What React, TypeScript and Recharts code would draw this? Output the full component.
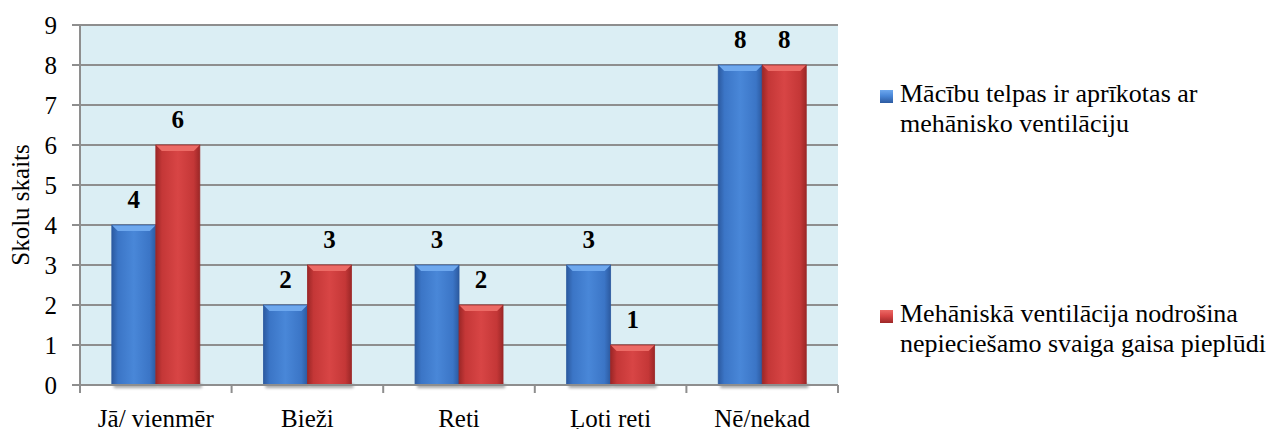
import React from "react";
import {
  BarChart,
  Bar,
  XAxis,
  YAxis,
  CartesianGrid,
  LabelList,
} from "recharts";

// ---------------------------------------------------------------------------
// Mehāniskā ventilācija skolās — grouped bars, Excel-like bevelled look
// ---------------------------------------------------------------------------

const categories = ["Jā/ vienmēr", "Bieži", "Reti", "Ļoti reti", "Nē/nekad"];
const equipped = [4, 2, 3, 3, 8];
const sufficient = [6, 3, 2, 1, 8];
const yTicks = [0, 1, 2, 3, 4, 5, 6, 7, 8, 9];

const seriesNames = [
  ["Mācību telpas ir aprīkotas ar", "mehānisko ventilāciju"],
  ["Mehāniskā ventilācija nodrošina", "nepieciešamo svaiga gaisa pieplūdi"],
];

const data = categories.map((name, i) => ({
  name,
  equipped: equipped[i],
  sufficient: sufficient[i],
}));

const FONT = '"Liberation Serif", "Times New Roman", serif';
const GRID = "#8e8e8e";

const PALETTE = {
  blue: { edge: "#2c5aa0", mid: "#3b75c6", center: "#4987d8", top: "#6ea8ee" },
  red: { edge: "#9c2727", mid: "#c43737", center: "#d84545", top: "#ec6b66" },
};

function Gradients() {
  return (
    <svg width={0} height={0} style={{ position: "absolute" }}>
      <defs>
        {(["blue", "red"] as const).map((k) => (
          <linearGradient key={k} id={`body-${k}`} x1="0" y1="0" x2="1" y2="0">
            <stop offset="0%" stopColor={PALETTE[k].edge} />
            <stop offset="14%" stopColor={PALETTE[k].mid} />
            <stop offset="50%" stopColor={PALETTE[k].center} />
            <stop offset="86%" stopColor={PALETTE[k].mid} />
            <stop offset="100%" stopColor={PALETTE[k].edge} />
          </linearGradient>
        ))}
        <filter id="bar-shadow" x="-20%" y="-50%" width="140%" height="300%">
          <feGaussianBlur stdDeviation="1.5" />
        </filter>
      </defs>
    </svg>
  );
}

function BevelBar(props: any) {
  const { x, y, width, height, tone } = props;
  if (!height || height <= 0) return null;
  const c = PALETTE[tone as "blue" | "red"];
  const b = Math.min(6, height / 2);
  return (
    <g>
      <rect
        x={x + 2}
        y={y + height - 1}
        width={width}
        height={4}
        fill="#000"
        opacity={0.35}
        filter="url(#bar-shadow)"
      />
      <rect x={x} y={y} width={width} height={height} fill={`url(#body-${tone})`} />
      <polygon
        points={`${x},${y} ${x + width},${y} ${x + width - b},${y + b} ${x + b},${y + b}`}
        fill={c.top}
      />
      <rect x={x} y={y} width={width} height={height} fill="none" stroke={c.edge} strokeWidth={0.8} />
    </g>
  );
}

function CategoryTick(props: any) {
  const { x, y, payload, index, visibleTicksCount } = props;
  const half = payload?.offset || 75.7;
  const axisY = y - 24;
  const last = index === (visibleTicksCount ?? categories.length) - 1;
  return (
    <g>
      <line x1={x - half} x2={x - half} y1={axisY} y2={axisY + 8} stroke={GRID} strokeWidth={2} />
      {last && (
        <line x1={x + half} x2={x + half} y1={axisY} y2={axisY + 8} stroke={GRID} strokeWidth={2} />
      )}
      <text x={x} y={y} dy="0.71em" textAnchor="middle" fontFamily={FONT} fontSize={25} fill="#000">
        {payload.value}
      </text>
    </g>
  );
}

function LegendBlock() {
  const tops = [79, 299];
  const tones = ["blue", "red"] as const;
  return (
    <>
      {seriesNames.map((lines, i) => (
        <div
          key={i}
          style={{
            position: "absolute",
            left: 900,
            top: tops[i],
            fontFamily: FONT,
            fontSize: 26,
            lineHeight: "30px",
            color: "#000",
            whiteSpace: "nowrap",
          }}
        >
          <span
            style={{
              position: "absolute",
              left: -20,
              top: 11,
              width: 13,
              height: 13,
              background: `linear-gradient(180deg, ${PALETTE[tones[i]].top}, ${PALETTE[tones[i]].center} 45%, ${PALETTE[tones[i]].edge})`,
            }}
          />
          {lines.map((l) => (
            <div key={l}>{l}</div>
          ))}
        </div>
      ))}
    </>
  );
}

export default function App() {
  return (
    <div
      style={{
        position: "absolute",
        left: 0,
        top: 0,
        width: 1277,
        height: 429,
        background: "#fff",
        overflow: "hidden",
      }}
    >
      <Gradients />
      <BarChart
        width={1277}
        height={429}
        data={data}
        margin={{ top: 25, right: 439, left: 0, bottom: 0 }}
        barCategoryGap="21%"
        barGap={0}
      >
        <CartesianGrid vertical={false} fill="#dbeef4" stroke={GRID} strokeWidth={2} />
        <XAxis
          dataKey="name"
          height={44}
          axisLine={{ stroke: GRID, strokeWidth: 2 }}
          tickLine={false}
          tickSize={8}
          tickMargin={16}
          interval={0}
          tick={<CategoryTick />}
        />
        <YAxis
          width={80}
          domain={[0, 9]}
          ticks={yTicks}
          interval={0}
          axisLine={{ stroke: GRID, strokeWidth: 2 }}
          tickLine={{ stroke: GRID, strokeWidth: 2 }}
          tickSize={8}
          tickMargin={15}
          tick={{ fontFamily: FONT, fontSize: 25, fill: "#000" }}
          label={{
            content: ({ viewBox }: any) => (
              <text
                x={viewBox.x + 20}
                y={viewBox.y + viewBox.height / 2}
                transform={`rotate(-90 ${viewBox.x + 20} ${viewBox.y + viewBox.height / 2})`}
                textAnchor="middle"
                dominantBaseline="central"
                fontFamily={FONT}
                fontSize={25}
                fill="#000"
              >
                Skolu skaits
              </text>
            ),
          }}
        />
        <Bar
          dataKey="equipped"
          isAnimationActive={false}
          shape={(p: any) => <BevelBar {...p} tone="blue" />}
        >
          <LabelList
            dataKey="equipped"
            position="top"
            offset={17}
            style={{ fontFamily: FONT, fontSize: 25, fontWeight: "bold", fill: "#000" }}
          />
        </Bar>
        <Bar
          dataKey="sufficient"
          isAnimationActive={false}
          shape={(p: any) => <BevelBar {...p} tone="red" />}
        >
          <LabelList
            dataKey="sufficient"
            position="top"
            offset={17}
            style={{ fontFamily: FONT, fontSize: 25, fontWeight: "bold", fill: "#000" }}
          />
        </Bar>
      </BarChart>
      <LegendBlock />
    </div>
  );
}
